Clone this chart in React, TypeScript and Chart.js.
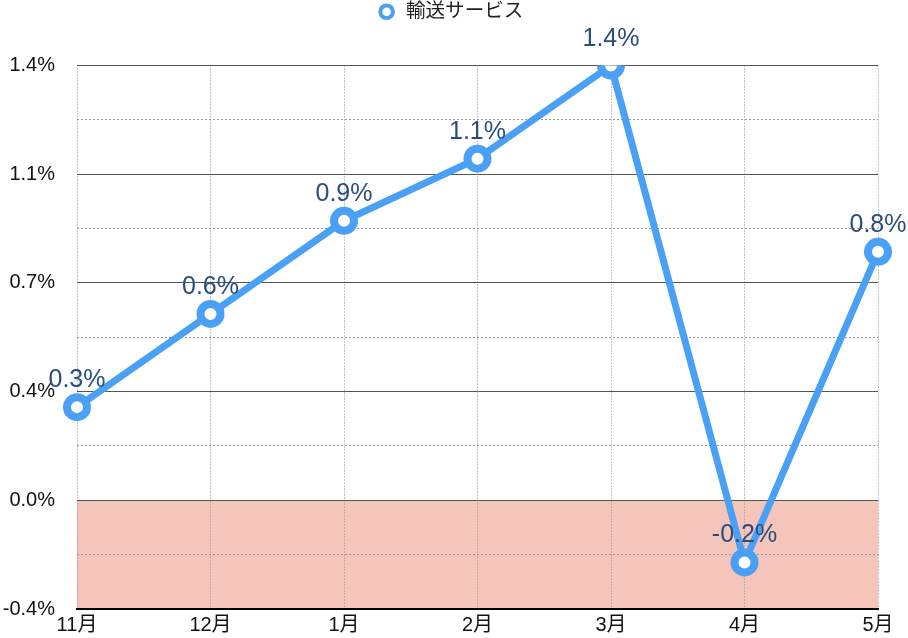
import React, { useEffect, useRef } from 'react';
import Chart from 'chart.js/auto';

const months = ['11月', '12月', '1月', '2月', '3月', '4月', '5月'];
const transportValues = [0.3, 0.6, 0.9, 1.1, 1.4, -0.2, 0.8];
const yTickLabels = ['-0.4%', '0.0%', '0.4%', '0.7%', '1.1%', '1.4%'];
const seriesName = '輸送サービス';

const FONT = '"Liberation Sans", "Noto Sans CJK JP", sans-serif';
const BLUE = '#4aa0f5';

// pink band under zero, drawn before the grid
const negativeZone = {
  id: 'negativeZone',
  beforeDraw(chart: any) {
    const { ctx, chartArea, scales } = chart;
    const zero = scales.y.getPixelForValue(0);
    ctx.save();
    ctx.fillStyle = '#f5c5bc';
    ctx.fillRect(chartArea.left, zero, chartArea.right - chartArea.left, chartArea.bottom - zero);
    ctx.restore();
  },
};

// value labels above each point
const valueLabels = {
  id: 'valueLabels',
  afterDatasetsDraw(chart: any) {
    const { ctx } = chart;
    const meta = chart.getDatasetMeta(0);
    ctx.save();
    ctx.font = `25px ${FONT}`;
    ctx.fillStyle = '#2b4d7b';
    ctx.textAlign = 'center';
    ctx.textBaseline = 'alphabetic';
    meta.data.forEach((pt: any, i: number) => {
      ctx.fillText(transportValues[i].toFixed(1) + '%', pt.x, pt.y - 20);
    });
    ctx.restore();
  },
};

// extra room under the legend, legend nudged right a little
const legendSpacer = {
  id: 'legendSpacer',
  afterInit(chart: any) {
    const legend = chart.legend;
    if (!legend) return;
    const fit = legend.fit;
    legend.fit = function () {
      fit.call(legend);
      legend.height += 34;
    };
  },
  afterLayout(chart: any) {
    const legend = chart.legend;
    if (!legend) return;
    legend.left += 11;
    legend.right += 11;
  },
};

const App: React.FC = () => {
  const canvasRef = useRef<HTMLCanvasElement>(null);
  const chartRef = useRef<Chart | null>(null);

  useEffect(() => {
    document.body.style.margin = '0';
    document.body.style.overflow = 'hidden';
    if (!canvasRef.current) return;
    if (chartRef.current) chartRef.current.destroy();

    chartRef.current = new Chart(canvasRef.current, {
      type: 'line',
      data: {
        labels: months,
        datasets: [
          {
            label: seriesName,
            data: transportValues,
            borderColor: BLUE,
            borderWidth: 7,
            pointRadius: 10,
            pointHoverRadius: 10,
            pointBorderWidth: 8,
            pointBorderColor: BLUE,
            pointBackgroundColor: '#ffffff',
            tension: 0,
          },
        ],
      },
      options: {
        animation: false,
        responsive: true,
        maintainAspectRatio: false,
        layout: { autoPadding: false, padding: { top: 0, right: 30, bottom: 0, left: 0 } },
        plugins: {
          tooltip: { enabled: false },
          legend: {
            position: 'top',
            labels: {
              usePointStyle: true,
              boxHeight: 9,
              padding: 2,
              color: '#222',
              font: { size: 19.5, family: FONT },
              generateLabels: (chart: any) =>
                Chart.defaults.plugins.legend.labels
                  .generateLabels(chart)
                  .map((l: any) => ({ ...l, lineWidth: 4, fillStyle: '#ffffff' })),
            },
          },
        },
        scales: {
          x: {
            offset: false,
            afterFit: (s: any) => {
              s.height = 29;
            },
            grid: {
              color: '#888',
              lineWidth: 1,
              drawTicks: false,
            },
            border: { display: true, color: '#000', width: 2, dash: [1, 2] },
            ticks: {
              color: '#111',
              padding: 4,
              maxRotation: 0,
              font: { size: 20, family: FONT },
            },
          },
          y: {
            min: -0.35,
            max: 1.4,
            afterFit: (s: any) => {
              s.width = 77;
              s.paddingTop = 0;
              s.paddingBottom = 0;
            },
            grid: {
              drawTicks: false,
              color: (ctx: any) => (ctx.index % 2 === 0 ? '#555' : '#999'),
              lineWidth: 1,
            },
            border: {
              display: false,
              dash: (ctx: any) => (ctx.index % 2 === 0 ? [] : [2, 2]),
            },
            ticks: {
              stepSize: 0.175,
              autoSkip: false,
              padding: 22,
              color: '#111',
              font: { size: 20, family: FONT },
              callback: (_v: any, index: number) => (index % 2 === 0 ? yTickLabels[index / 2] : ''),
            },
          },
        },
      },
      plugins: [negativeZone, valueLabels, legendSpacer],
    } as any);

    return () => {
      if (chartRef.current) {
        chartRef.current.destroy();
        chartRef.current = null;
      }
    };
  }, []);

  return (
    <div style={{ position: 'relative', width: 908, height: 638 }}>
      <canvas ref={canvasRef} />
    </div>
  );
};

export default App;
